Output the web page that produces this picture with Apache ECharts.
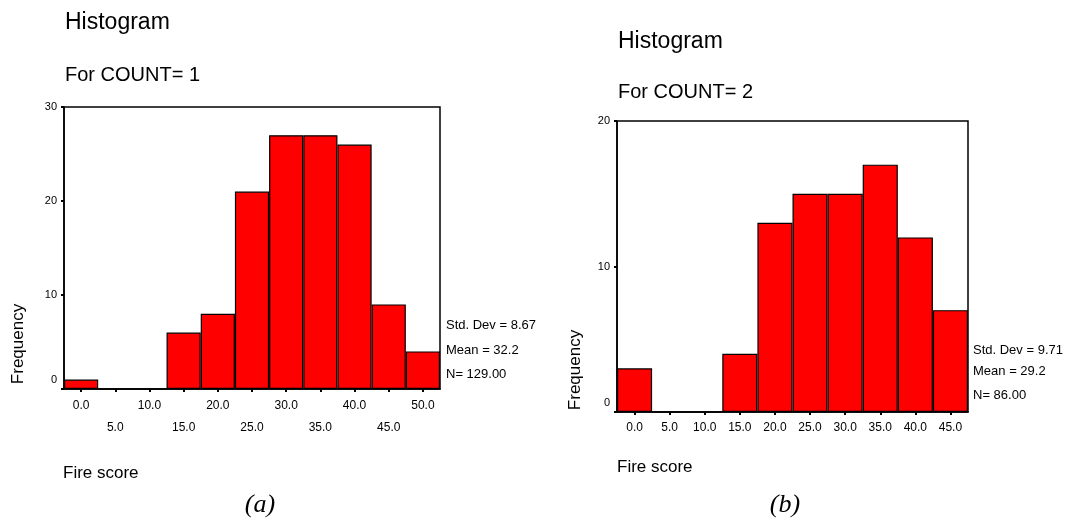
<!DOCTYPE html>
<html>
<head>
<meta charset="utf-8">
<script src="https://cdn.jsdelivr.net/npm/echarts@6/dist/echarts.min.js"></script>
<style>
  html, body { margin: 0; padding: 0; background: #fff; }
  #chart { width: 1087px; height: 522px; }
</style>
</head>
<body>
<div id="chart"></div>
<script>
// Bin midpoints (Fire score) and frequencies for each COUNT group
const binsA = ['0.0', '5.0', '10.0', '15.0', '20.0', '25.0', '30.0', '35.0', '40.0', '45.0', '50.0'];
const freqA = [1, 0, 0, 6, 8, 21, 27, 27, 26, 9, 4];
const statsA = ['Std. Dev = 8.67', 'Mean = 32.2', 'N= 129.00'];

const binsB = ['0.0', '5.0', '10.0', '15.0', '20.0', '25.0', '30.0', '35.0', '40.0', '45.0'];
const freqB = [3, 0, 0, 4, 13, 15, 15, 17, 12, 7];
const statsB = ['Std. Dev = 9.71', 'Mean = 29.2', 'N= 86.00'];

const yTicksA = { max: 30, interval: 10 };
const yTicksB = { max: 20, interval: 10 };

const FONT = '"Liberation Sans", Arial, sans-serif';
const RED = '#ff0000';

const chart = echarts.init(document.getElementById('chart'));

function yAxis(gridIndex, ticks) {
  return {
    type: 'value', gridIndex, min: 0, max: ticks.max, interval: ticks.interval,
    splitLine: { show: false },
    axisLine: { show: true, lineStyle: { color: '#000', width: 1.5 } },
    axisTick: { show: true, length: 3, lineStyle: { color: '#000', width: 2 } },
    axisLabel: {
      color: '#000', fontFamily: FONT, fontSize: 11, margin: 7,
      formatter: v => v === 0 ? '{z|0}' : String(v),
      rich: { z: { fontFamily: FONT, fontSize: 11, color: '#000', padding: [0, 0, 18, 0] } }
    }
  };
}

function xAxis(gridIndex, cats, twoRows, margin) {
  return {
    type: 'category', gridIndex, data: cats, boundaryGap: true,
    axisLine: { show: true, lineStyle: { color: '#000', width: 1.5 } },
    axisTick: { show: true, alignWithLabel: true, length: 3, lineStyle: { color: '#000', width: 2 } },
    axisLabel: {
      color: '#000', fontFamily: FONT, fontSize: 12, margin, interval: 0,
      lineHeight: 22,
      formatter: (v, i) => (twoRows && i % 2 === 1) ? '\n' + v : v
    }
  };
}

function statText(x, ys, lines) {
  return lines.map((t, i) => ({
    type: 'text', left: x, top: ys[i] - 8,
    style: { text: t, font: '13px ' + FONT, fill: '#000' }
  }));
}

function plain(x, y, t, size) {
  return {
    type: 'text', x, y,
    style: { text: t, font: size + 'px ' + FONT, fill: '#000', textVerticalAlign: 'middle' }
  };
}

function vertical(x, y, t) {
  return {
    type: 'text', x, y, rotation: Math.PI / 2,
    style: { text: t, font: '17px ' + FONT, fill: '#000', textAlign: 'center', textVerticalAlign: 'middle' }
  };
}

function caption(x, y, t) {
  return {
    type: 'text', x, y,
    style: { text: t, font: 'italic 26px "Liberation Serif", "Times New Roman", serif', fill: '#000', textAlign: 'center', textVerticalAlign: 'middle' }
  };
}

chart.setOption({
  backgroundColor: '#fff',
  animation: false,
  grid: [
    { left: 64, top: 107, width: 376, height: 282, show: true, borderColor: '#000', borderWidth: 1.5, backgroundColor: '#fff' },
    { left: 617, top: 121, width: 351, height: 291, show: true, borderColor: '#000', borderWidth: 1.5, backgroundColor: '#fff' }
  ],
  xAxis: [xAxis(0, binsA, true, 6), xAxis(1, binsB, false, 5)],
  yAxis: [yAxis(0, yTicksA), yAxis(1, yTicksB)],
  series: [
    {
      type: 'bar', xAxisIndex: 0, yAxisIndex: 0, data: freqA,
      barCategoryGap: 0, barWidth: '100%',
      itemStyle: { color: RED, borderColor: '#000', borderWidth: 1.2 }
    },
    {
      type: 'bar', xAxisIndex: 1, yAxisIndex: 1, data: freqB,
      barCategoryGap: 0, barWidth: '100%',
      itemStyle: { color: RED, borderColor: '#000', borderWidth: 1.2 }
    }
  ],
  graphic: [
    plain(65, 23, 'Histogram', 23),
    plain(65, 75, 'For COUNT= 1', 20),
    plain(618, 42, 'Histogram', 23),
    plain(618, 92, 'For COUNT= 2', 20),
    plain(63, 473, 'Fire score', 17),
    plain(617, 467, 'Fire score', 17),
    vertical(18, 344, 'Frequency'),
    vertical(575, 370, 'Frequency'),
    caption(260, 505, '(a)'),
    caption(785, 505, '(b)')
  ].concat(statText(446, [327, 352, 376], statsA), statText(973, [352, 373, 397], statsB))
});
</script>
</body>
</html>
